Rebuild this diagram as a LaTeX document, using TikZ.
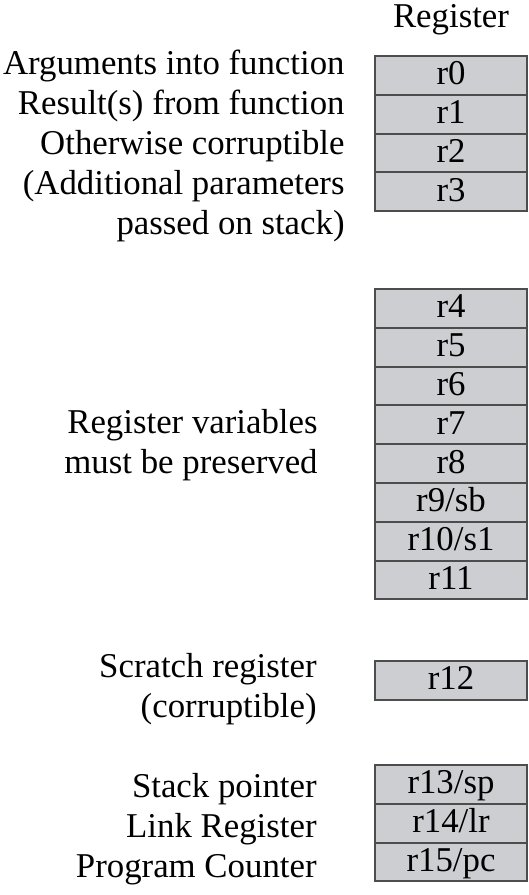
\documentclass[tikz,border=0pt]{standalone}
\usepackage{fontspec}
\setmainfont{Liberation Serif}
\usetikzlibrary{positioning}
\definecolor{RegClr}{RGB}{205,206,210}
\definecolor{RegLineClr}{RGB}{77,77,77}

\begin{document}
\begin{tikzpicture}[x=.5pt,y=-.5pt,
  txt/.style={inner sep=0pt,font=\fontsize{17.4}{20}\selectfont},
  reg/.style={txt,draw=RegLineClr,fill=RegClr,line width=1pt,minimum width=76pt,
    minimum height=19.4pt,outer sep=0pt,text height=12.4pt,text depth=3pt},
  lbl/.style={txt,align=right,anchor=base east}]
\useasboundingbox (0,0) rectangle (529,895);

\node[txt,anchor=base] (head) at (451,27) {Register};

\node[reg,anchor=north] (r0) at (451,56) {r0};
\node[reg,below=0pt of r0] (r1) {r1};
\node[reg,below=0pt of r1] (r2) {r2};
\node[reg,below=0pt of r2] (r3) {r3};

\node[reg,anchor=north] (r4) at (451,289) {r4};
\node[reg,below=0pt of r4] (r5) {r5};
\node[reg,below=0pt of r5] (r6) {r6};
\node[reg,below=0pt of r6] (r7) {r7};
\node[reg,below=0pt of r7] (r8) {r8};
\node[reg,below=0pt of r8] (r9) {r9/sb};
\node[reg,below=0pt of r9] (r10) {r10/s1};
\node[reg,below=0pt of r10] (r11) {r11};

\node[reg,anchor=north] (r12) at (451,661) {r12};

\node[reg,anchor=north] (r13) at (451,765) {r13/sp};
\node[reg,below=0pt of r13] (r14) {r14/lr};
\node[reg,below=0pt of r14] (r15) {r15/pc};

\node[lbl] (args) at (345,234) {Arguments into function\\Result(s) from function\\Otherwise corruptible\\(Additional parameters\\passed on stack)};
\node[lbl] (vars) at (318,473) {Register variables\\must be preserved};
\node[lbl] (scratch) at (317,717) {Scratch register\\(corruptible)};
\node[lbl] (special) at (317,877) {Stack pointer\\Link Register\\Program Counter};

\end{tikzpicture}
\end{document}
